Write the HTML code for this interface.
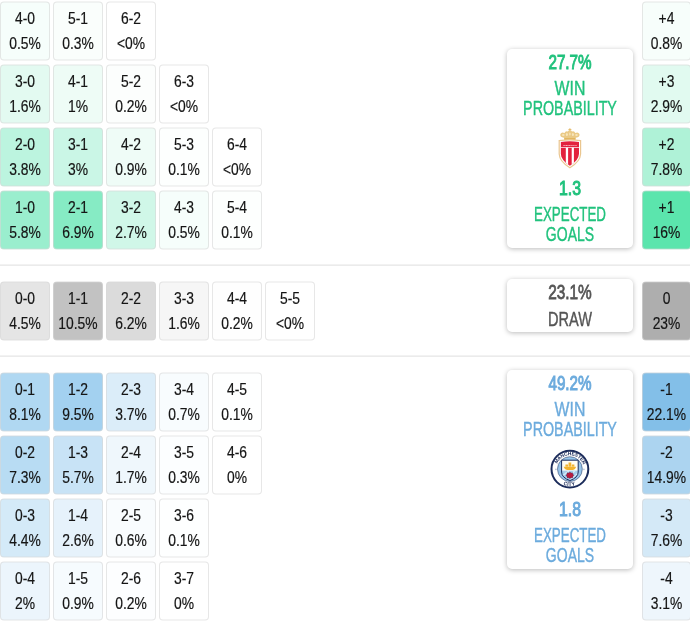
<!DOCTYPE html>
<html><head><meta charset="utf-8"><title>Match probabilities</title>
<style>
html,body{margin:0;padding:0;background:#fff;}
body{width:690px;height:622px;position:relative;overflow:hidden;font-family:"Liberation Sans",sans-serif;color:#151515;}
.c{position:absolute;width:50px;height:59px;box-sizing:border-box;border:1px solid rgba(215,215,215,.6);border-radius:4px;text-align:center;font-size:16.5px;line-height:25px;padding-top:4px;transform:translateY(.5px);}
.c span{display:block;transform:translateY(-.5px) scaleX(.84);white-space:nowrap;-webkit-text-stroke:.2px #151515;}
.c.r{width:49px}
.hr{position:absolute;left:0;width:690px;height:2px;background:linear-gradient(#f2f2f2 50%,#ebebeb 50%);}
.p{position:absolute;left:507px;width:126px;box-sizing:border-box;border:0;border-radius:5px;background:#fff;box-shadow:0 1px 5px rgba(0,0,0,.27);text-align:center;}
.p div{position:absolute;left:-19px;width:164px;white-space:nowrap;text-align:center;font-size:20.5px;line-height:20px;-webkit-text-stroke:.4px currentColor;}
.p .b{font-size:20.5px;font-weight:normal;-webkit-text-stroke:1px currentColor;}
.gr .b{-webkit-text-stroke:.8px currentColor;}
.g{color:#21c27d;}
.bl{color:#6cabdd;}
.gr{color:#555;}
</style></head><body>
<div class="c" style="left:0px;top:1px;background-color:rgb(246,254,251)"><span>4-0</span><span>0.5%</span></div>
<div class="c" style="left:53px;top:1px;background-color:rgb(250,254,252)"><span>5-1</span><span>0.3%</span></div>
<div class="c" style="left:106px;top:1px;background-color:rgb(255,255,255)"><span>6-2</span><span>&lt;0%</span></div>
<div class="c" style="left:0px;top:64px;background-color:rgb(227,250,241)"><span>3-0</span><span>1.6%</span></div>
<div class="c" style="left:53px;top:64px;background-color:rgb(238,252,246)"><span>4-1</span><span>1%</span></div>
<div class="c" style="left:106px;top:64px;background-color:rgb(252,254,253)"><span>5-2</span><span>0.2%</span></div>
<div class="c" style="left:159px;top:64px;background-color:rgb(255,255,255)"><span>6-3</span><span>&lt;0%</span></div>
<div class="c" style="left:0px;top:127px;background-color:rgb(188,244,223)"><span>2-0</span><span>3.8%</span></div>
<div class="c" style="left:53px;top:127px;background-color:rgb(202,246,230)"><span>3-1</span><span>3%</span></div>
<div class="c" style="left:106px;top:127px;background-color:rgb(239,252,247)"><span>4-2</span><span>0.9%</span></div>
<div class="c" style="left:159px;top:127px;background-color:rgb(253,255,254)"><span>5-3</span><span>0.1%</span></div>
<div class="c" style="left:212px;top:127px;background-color:rgb(255,255,255)"><span>6-4</span><span>&lt;0%</span></div>
<div class="c" style="left:0px;top:190px;background-color:rgb(154,238,206)"><span>1-0</span><span>5.8%</span></div>
<div class="c" style="left:53px;top:190px;background-color:rgb(134,235,196)"><span>2-1</span><span>6.9%</span></div>
<div class="c" style="left:106px;top:190px;background-color:rgb(208,247,232)"><span>3-2</span><span>2.7%</span></div>
<div class="c" style="left:159px;top:190px;background-color:rgb(246,254,251)"><span>4-3</span><span>0.5%</span></div>
<div class="c" style="left:212px;top:190px;background-color:rgb(253,255,254)"><span>5-4</span><span>0.1%</span></div>
<div class="c" style="left:0px;top:281px;background-color:rgb(229,229,229)"><span>0-0</span><span>4.5%</span></div>
<div class="c" style="left:53px;top:281px;background-color:rgb(194,194,194)"><span>1-1</span><span>10.5%</span></div>
<div class="c" style="left:106px;top:281px;background-color:rgb(219,219,219)"><span>2-2</span><span>6.2%</span></div>
<div class="c" style="left:159px;top:281px;background-color:rgb(246,246,246)"><span>3-3</span><span>1.6%</span></div>
<div class="c" style="left:212px;top:281px;background-color:rgb(254,254,254)"><span>4-4</span><span>0.2%</span></div>
<div class="c" style="left:265px;top:281px;background-color:rgb(255,255,255)"><span>5-5</span><span>&lt;0%</span></div>
<div class="c" style="left:0px;top:372px;background-color:rgb(176,216,242)"><span>0-1</span><span>8.1%</span></div>
<div class="c" style="left:53px;top:372px;background-color:rgb(163,209,240)"><span>1-2</span><span>9.5%</span></div>
<div class="c" style="left:106px;top:372px;background-color:rgb(219,237,249)"><span>2-3</span><span>3.7%</span></div>
<div class="c" style="left:159px;top:372px;background-color:rgb(248,252,254)"><span>3-4</span><span>0.7%</span></div>
<div class="c" style="left:212px;top:372px;background-color:rgb(254,255,255)"><span>4-5</span><span>0.1%</span></div>
<div class="c" style="left:0px;top:435px;background-color:rgb(184,220,243)"><span>0-2</span><span>7.3%</span></div>
<div class="c" style="left:53px;top:435px;background-color:rgb(200,227,246)"><span>1-3</span><span>5.7%</span></div>
<div class="c" style="left:106px;top:435px;background-color:rgb(239,247,252)"><span>2-4</span><span>1.7%</span></div>
<div class="c" style="left:159px;top:435px;background-color:rgb(252,254,255)"><span>3-5</span><span>0.3%</span></div>
<div class="c" style="left:212px;top:435px;background-color:rgb(255,255,255)"><span>4-6</span><span>0%</span></div>
<div class="c" style="left:0px;top:498px;background-color:rgb(212,234,248)"><span>0-3</span><span>4.4%</span></div>
<div class="c" style="left:53px;top:498px;background-color:rgb(230,242,251)"><span>1-4</span><span>2.6%</span></div>
<div class="c" style="left:106px;top:498px;background-color:rgb(249,252,254)"><span>2-5</span><span>0.6%</span></div>
<div class="c" style="left:159px;top:498px;background-color:rgb(254,255,255)"><span>3-6</span><span>0.1%</span></div>
<div class="c" style="left:0px;top:561px;background-color:rgb(236,245,252)"><span>0-4</span><span>2%</span></div>
<div class="c" style="left:53px;top:561px;background-color:rgb(246,251,254)"><span>1-5</span><span>0.9%</span></div>
<div class="c" style="left:106px;top:561px;background-color:rgb(253,254,255)"><span>2-6</span><span>0.2%</span></div>
<div class="c" style="left:159px;top:561px;background-color:rgb(255,255,255)"><span>3-7</span><span>0%</span></div>
<div class="c r" style="left:642px;top:1px;background-color:rgb(247,254,251)"><span>+4</span><span>0.8%</span></div>
<div class="c r" style="left:642px;top:64px;background-color:rgb(225,250,240)"><span>+3</span><span>2.9%</span></div>
<div class="c r" style="left:642px;top:127px;background-color:rgb(175,242,215)"><span>+2</span><span>7.8%</span></div>
<div class="c r" style="left:642px;top:190px;background-color:rgb(91,229,173)"><span>+1</span><span>16%</span></div>
<div class="c r" style="left:642px;top:281px;background-color:rgb(174,174,174)"><span>0</span><span>23%</span></div>
<div class="c r" style="left:642px;top:372px;background-color:rgb(131,191,232)"><span>-1</span><span>22.1%</span></div>
<div class="c r" style="left:642px;top:435px;background-color:rgb(172,212,240)"><span>-2</span><span>14.9%</span></div>
<div class="c r" style="left:642px;top:498px;background-color:rgb(212,233,247)"><span>-3</span><span>7.6%</span></div>
<div class="c r" style="left:642px;top:561px;background-color:rgb(238,246,252)"><span>-4</span><span>3.1%</span></div>
<div class="hr" style="top:264px"></div>
<div class="hr" style="top:355px"></div>

<div class="p g" style="top:49px;height:199px">
 <div class="b" style="top:3px;transform:scaleX(0.742)">27.7%</div>
 <div style="top:29px;transform:scaleX(0.772)">WIN</div>
 <div style="top:49px;transform:scaleX(0.698)">PROBABILITY</div>
 <div class="b" style="top:129px;transform:scaleX(0.772)">1.3</div>
 <div style="top:155px;transform:scaleX(0.651)">EXPECTED</div>
 <div style="top:175px;transform:scaleX(0.683)">GOALS</div>
</div>
<div class="p gr" style="top:279px;height:53px">
 <div class="b" style="top:3px;transform:scaleX(0.750)">23.1%</div>
 <div style="top:30px;transform:scaleX(0.711)">DRAW</div>
</div>
<div class="p bl" style="top:370px;height:199px">
 <div class="b" style="top:3px;transform:scaleX(0.742)">49.2%</div>
 <div style="top:29px;transform:scaleX(0.772)">WIN</div>
 <div style="top:49px;transform:scaleX(0.698)">PROBABILITY</div>
 <div class="b" style="top:129px;transform:scaleX(0.772)">1.8</div>
 <div style="top:155px;transform:scaleX(0.651)">EXPECTED</div>
 <div style="top:175px;transform:scaleX(0.683)">GOALS</div>
</div>
<svg style="position:absolute;left:545px;top:120px" width="50" height="55" viewBox="-0.3 0 50 55">
 <g fill="none" stroke="#E2B65E" stroke-width=".9" stroke-linecap="round">
  <path d="M24.6 8.6V11.2M23.5 9.6H25.7"/>
 </g>
 <path d="M19.3 20 L18.7 17.7 Q14.1 16.8 15.1 13.9 Q16.3 11.5 19.2 12.9 Q20.1 10.7 22.5 11.5 Q23.4 10.2 24.6 10.2 Q25.8 10.2 26.7 11.5 Q29.1 10.7 30 12.9 Q32.9 11.5 34.1 13.9 Q35.1 16.8 30.5 17.7 L29.9 20 Z" fill="#EAC985"/>
 <g fill="#F7E6BD"><ellipse cx="18" cy="15" rx="1.3" ry="1"/><ellipse cx="31.2" cy="15" rx="1.3" ry="1"/><ellipse cx="21.6" cy="14.6" rx="1" ry="1.5"/><ellipse cx="27.6" cy="14.6" rx="1" ry="1.5"/><ellipse cx="24.6" cy="14" rx=".7" ry="1.6"/></g>
 <rect x="19" y="18" width="11.2" height="2" rx=".6" fill="#E2B65E"/>
 <path d="M13.9 20.6 Q24.6 19 35.3 20.6 L35.3 34 Q35 41.5 24.6 47.7 Q14.2 41.5 13.9 34 Z" fill="#fff" stroke="#EAC68F" stroke-width="1.2"/>
 <clipPath id="ms"><path d="M15.5 22 Q24.6 20.7 33.7 22 L33.7 33.8 Q33.4 40.5 24.6 45.8 Q15.8 40.5 15.5 33.8 Z"/></clipPath>
 <g clip-path="url(#ms)">
  <rect x="14" y="20" width="22" height="28" fill="#E3213C"/>
  <rect x="20.5" y="27.6" width="2.3" height="20" fill="#fff"/>
  <rect x="26.4" y="27.6" width="2.2" height="20" fill="#fff"/>
  <rect x="14" y="27.2" width="22" height=".7" fill="#fff"/>
  <text x="24.6" y="26" text-anchor="middle" font-family="Liberation Sans, sans-serif" font-weight="bold" font-size="2.4" fill="#fff" textLength="14" lengthAdjust="spacingAndGlyphs">AS MONACO FC</text>
 </g>
</svg>
<svg style="position:absolute;left:545px;top:445px" width="50" height="50" viewBox="0 0 50 50">
 <circle cx="24.9" cy="24.1" r="18.4" fill="#fff" stroke="#1C2C5B" stroke-width="2"/>
 <circle cx="24.9" cy="24.1" r="12.4" fill="#98C5E9" stroke="#1C2C5B" stroke-width=".5"/>
 <clipPath id="cs"><path d="M16.6 15.2 H33.2 V27 Q33.2 32.5 24.9 35.6 Q16.6 32.5 16.6 27 Z"/></clipPath>
 <g clip-path="url(#cs)">
  <rect x="16" y="14" width="18" height="11.8" fill="#FFFDF3"/>
  <rect x="16" y="25.8" width="18" height="11" fill="#A5CDEC"/>
  <path d="M15 33 L24 25.8 M18 36 L30 25.8 M23 37 L35 26.5" stroke="#D9ECF8" stroke-width="1.3"/>
  <path d="M18.6 21.8 Q19.8 25 22 25.1 H28 Q30.2 25 31.2 21.8 Z M20.4 22 V19.4 H23 V22 M23.5 22 V17.6 H26.3 V22 M26.8 22 V19.4 H29.4 V22" fill="#F2B430"/>
  <path d="M24.9 27 l1.2 .9 1.5 -.2 .3 1.5 1 1.1 -1 1.1 -.3 1.5 -1.5 -.2 -1.2 .9 -1.2 -.9 -1.5 .2 -.3 -1.5 -1 -1.1 1 -1.1 .3 -1.5 1.5 .2z" fill="#B81C3E" stroke="#1C2C5B" stroke-width=".3"/>
 </g>
 <path d="M16.6 15.2 H33.2 V27 Q33.2 32.5 24.9 35.6 Q16.6 32.5 16.6 27 Z" fill="none" stroke="#1C2C5B" stroke-width="1"/>
 <circle cx="10.9" cy="24.3" r=".9" fill="#B9C6D8"/><circle cx="38.9" cy="24.3" r=".9" fill="#B9C6D8"/>
 <path id="ca" d="M12.1 18.9 A13.8 13.8 0 0 1 37.7 18.9" fill="none"/>
 <path id="cb" d="M18.3 39.65 A16.9 16.9 0 0 0 31.5 39.65" fill="none"/>
 <g font-family="Liberation Sans, sans-serif" font-weight="bold" fill="#1C2C5B">
  <text font-size="5"><textPath href="#ca" textLength="33.5" lengthAdjust="spacing">MANCHESTER</textPath></text>
  <text font-size="5.2"><textPath href="#cb" textLength="12.2" lengthAdjust="spacing">CITY</textPath></text>
 </g>
</svg>
</body></html>
